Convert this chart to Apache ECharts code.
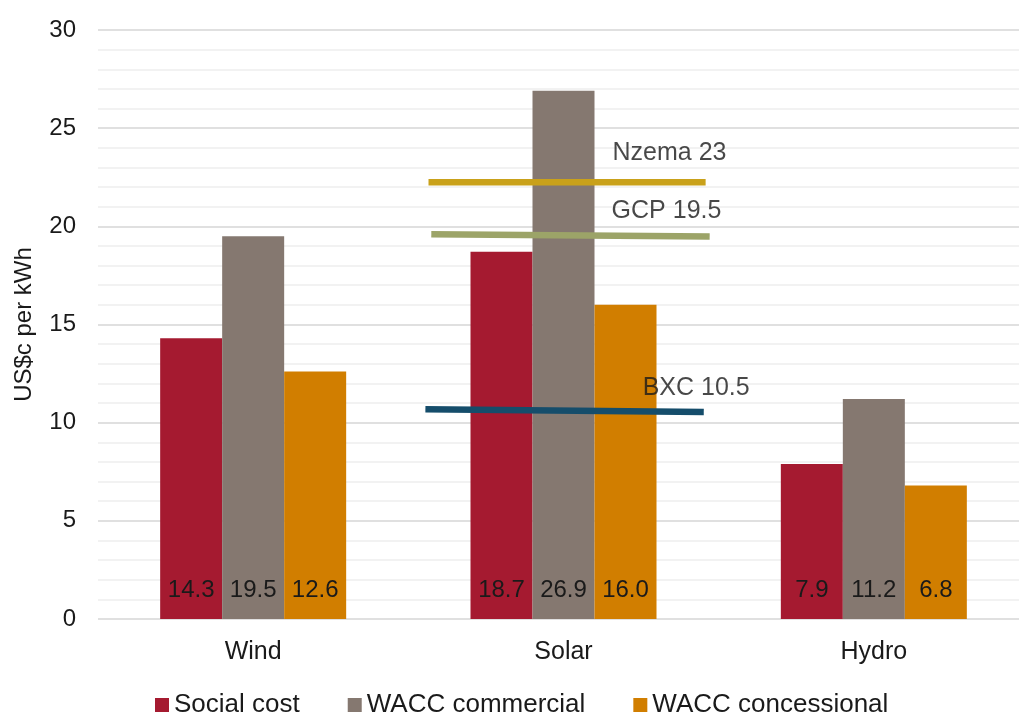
<!DOCTYPE html>
<html>
<head>
<meta charset="utf-8">
<script src="https://cdn.jsdelivr.net/npm/echarts@6/dist/echarts.min.js"></script>
<style>
  html, body { margin: 0; padding: 0; background: #fff; overflow: hidden; }
  /* the plot runs a little past the right edge of the picture, so the canvas is wider than the window */
  #chart { width: 1030px; height: 715px; }
</style>
</head>
<body>
<div id="chart"></div>
<script>
const categories = ["Wind", "Solar", "Hydro"];
const socialCost = [14.3, 18.7, 7.9];
const waccCommercial = [19.5, 26.9, 11.2];
const waccConcessional = [12.6, 16.0, 6.8];

// reference tariffs drawn across the Solar group (x in category units on a hidden value axis)
const nzemaLine = [[0.565, 22.25], [1.458, 22.25]];
const gcpLine = [[0.574, 19.6], [1.471, 19.48]];
const bxcLine = [[0.555, 10.68], [1.452, 10.54]];
const refLabels = [
  { name: "Nzema 23", value: [1.158, 23.74] },
  { name: "GCP 19.5", value: [1.155, 20.8] },
  { name: "BXC 10.5", value: [1.255, 11.77] },
];

const font = "Liberation Sans, Arial, sans-serif";
const chart = echarts.init(document.getElementById("chart"));

function barSeries(name, data, color) {
  return {
    name: name,
    type: "bar",
    data: data,
    barWidth: 62,
    barGap: "0%",
    itemStyle: { color: color },
    label: {
      show: true,
      position: "insideBottom",
      distance: 17,
      color: "#1a1a1a",
      fontSize: 24,
      fontFamily: font,
      formatter: (p) => p.value.toFixed(1),
    },
    animation: false,
  };
}

function refLine(data, color) {
  return {
    type: "line",
    xAxisIndex: 1,
    data: data,
    symbol: "none",
    lineStyle: { color: color, width: 6.5 },
    z: 5,
    animation: false,
  };
}

chart.setOption({
  backgroundColor: "#fff",
  textStyle: { fontFamily: font },
  grid: { left: 98, top: 30, width: 931, height: 589 },
  legend: {
    top: 687,
    left: 150,
    itemWidth: 14,
    itemHeight: 14,
    itemGap: 48,
    icon: "rect",
    textStyle: { fontSize: 26, color: "#1a1a1a", fontFamily: font },
    data: ["Social cost", "WACC commercial", "WACC concessional"],
  },
  xAxis: [
    {
      type: "category",
      data: categories,
      axisLine: { show: false },
      axisTick: { show: false },
      axisLabel: { fontSize: 25, color: "#1a1a1a", margin: 21 },
    },
    {
      type: "value",
      min: -0.5,
      max: 2.5,
      show: false,
    },
  ],
  yAxis: {
    type: "value",
    min: 0,
    max: 30,
    interval: 5,
    name: "US$c per kWh",
    nameLocation: "middle",
    nameGap: 62,
    nameTextStyle: { fontSize: 24, color: "#1a1a1a" },
    axisLine: { show: false },
    axisTick: { show: false },
    axisLabel: { fontSize: 24, color: "#1a1a1a", margin: 22 },
    splitLine: { lineStyle: { color: "#d6d6d6", width: 1.5 } },
    minorTick: { show: false, splitNumber: 5 },
    minorSplitLine: { show: true, lineStyle: { color: "#eeeeee", width: 1.5 } },
  },
  series: [
    barSeries("Social cost", socialCost, "#A51A30"),
    barSeries("WACC commercial", waccCommercial, "#857870"),
    barSeries("WACC concessional", waccConcessional, "#D17E00"),
    refLine(nzemaLine, "#C9A11A"),
    refLine(gcpLine, "#9CA468"),
    refLine(bxcLine, "#154D6B"),
    {
      type: "scatter",
      xAxisIndex: 1,
      data: refLabels,
      symbolSize: 0,
      z: 6,
      label: {
        show: true,
        position: "right",
        distance: 0,
        formatter: (p) => p.name,
        fontSize: 25,
        color: "#1a1a1a",
        fontFamily: font,
      },
      animation: false,
    },
  ],
});
</script>
</body>
</html>
